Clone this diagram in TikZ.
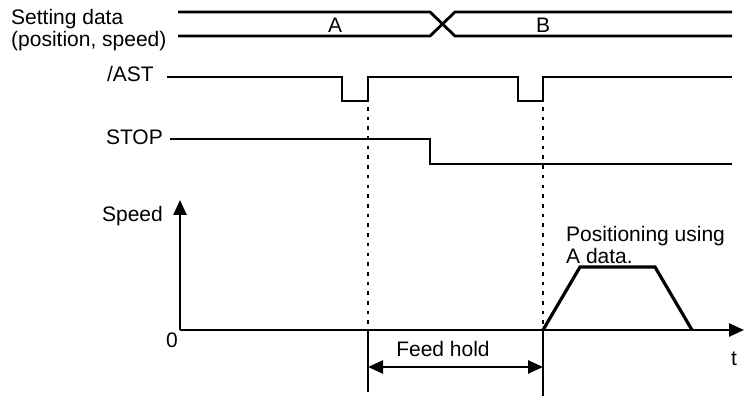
\documentclass[tikz,border=0pt]{standalone}
\usepackage{fontspec}
\setmainfont{Liberation Sans}
\usetikzlibrary{arrows.meta}
\begin{document}
\begin{tikzpicture}[x=1pt,y=-1pt,
  lbl/.style={font=\fontsize{21}{24}\selectfont, inner sep=0pt},
  sig/.style={line width=2.8pt, line join=miter},
  ax/.style={line width=2.5pt},
  dotl/.style={line width=2.6pt, dash pattern=on 3.6pt off 6.1pt},
  tip/.style={-{Triangle[length=15pt,width=13pt]}},
  ]
\useasboundingbox[fill=white] (0,0) rectangle (744,398);

% labels
\node[lbl, anchor=base west] (sd1) at (11,25) {Setting data};
\node[lbl, anchor=base west] (sd2) at (11,47) {(position, speed)};
\node[lbl, anchor=base east] (ast) at (154,82) {/AST};
\node[lbl, anchor=base east] (stop) at (163,145) {STOP};
\node[lbl, anchor=base east] (spd) at (163,222) {Speed};
\node[lbl, anchor=base] (zero) at (172,347) {0};
\node[lbl, anchor=base] (tt) at (734,365) {t};
\node[lbl, anchor=base] (la) at (335,33) {A};
\node[lbl, anchor=base] (lb) at (543,33) {B};
\node[lbl, anchor=base west] (pos) at (566,241) {Positioning using};
\node[lbl, anchor=base west] (pos2) at (566,263) {A data.};
\node[lbl, anchor=base] (fh) at (443,356) {Feed hold};

% setting data bus
\draw[sig] (178,12) -- (430,12) -- (455,36) -- (732,36);
\draw[sig] (178,36) -- (430,36) -- (455,12) -- (732,12);

% /AST
\draw[sig] (167,77) -- (342,77) -- (342,101) -- (368,101) -- (368,77) -- (518,77)
  -- (518,101) -- (543,101) -- (543,77) -- (732,77);

% STOP
\draw[sig] (170,139) -- (430,139) -- (430,164) -- (732,164);

% axes
\coordinate (org) at (180,330);
\coordinate (ytip) at (180,200);
\coordinate (xtip) at (744,330);
\draw[ax, tip] (org) -- (ytip);
\draw[ax, tip] (org) -- (xtip);

% dotted guides
\coordinate (d1t) at (368,107);
\coordinate (d1b) at (368,330);
\coordinate (d2t) at (543,107);
\coordinate (d2b) at (543,330);
\draw[dotl] (d1t) -- (d1b);
\draw[dotl] (d2t) -- (d2b);

% feed hold markers
\coordinate (f1b) at (368,392);
\coordinate (f2b) at (543,396);
\draw[ax] (d1b) -- (f1b);
\draw[ax] (d2b) -- (f2b);
\coordinate (fa) at (368,367);
\coordinate (fb) at (543,367);
\draw[ax, {Triangle[length=15pt,width=13pt]}-{Triangle[length=15pt,width=13pt]}] (fa) -- (fb);

% speed profile
\draw[line width=3.2pt, line join=miter] (543,330) -- (580,267) -- (655,267) -- (692,330);
\end{tikzpicture}
\end{document}
